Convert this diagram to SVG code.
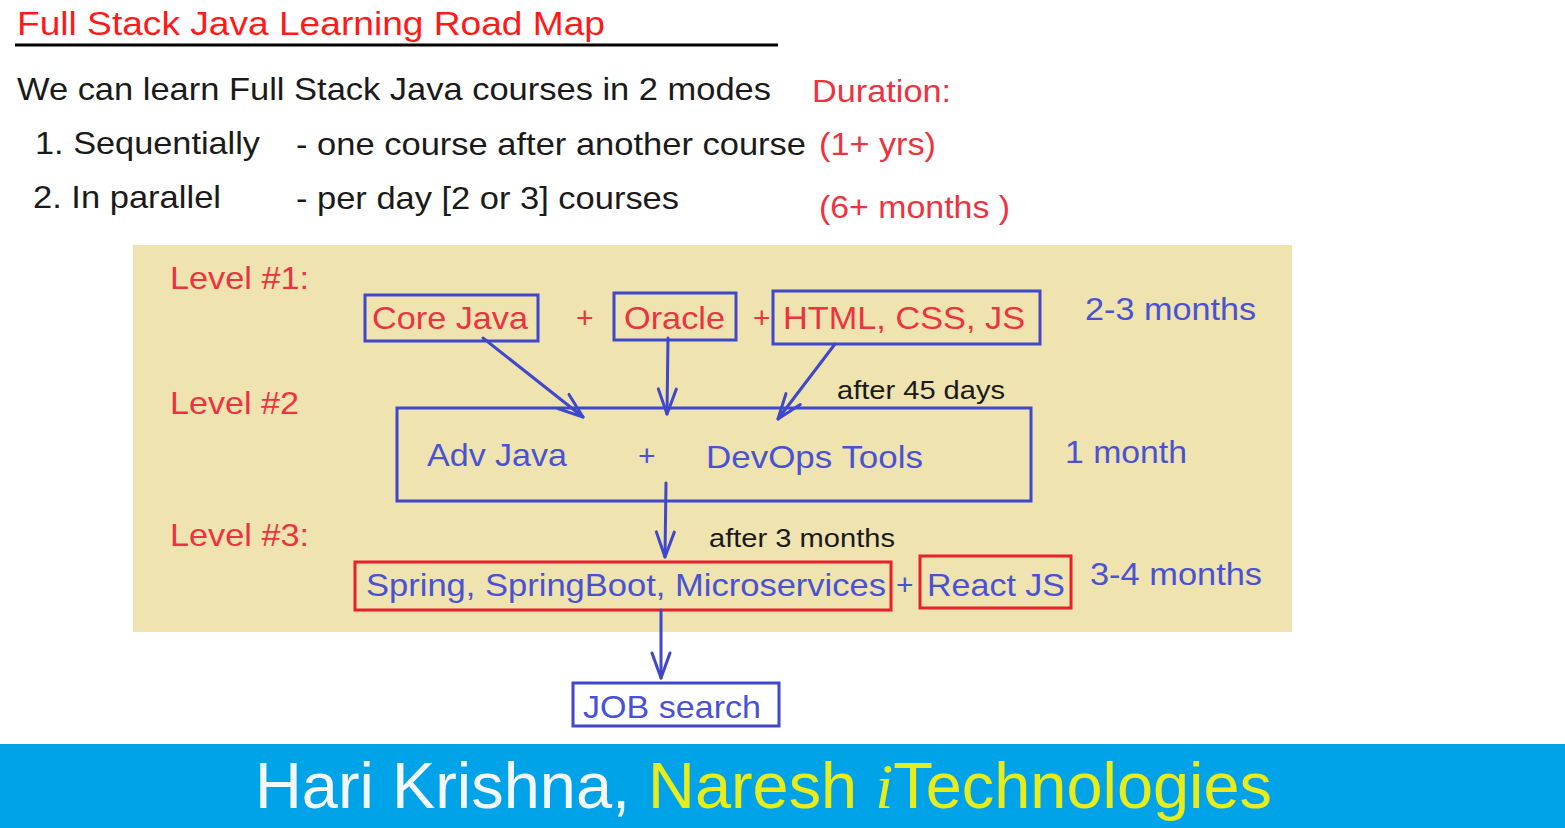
<svg xmlns="http://www.w3.org/2000/svg" width="1565" height="828" viewBox="0 0 1565 828">
<defs>
<style>
text{font-family:"Liberation Sans",Arial,sans-serif;}
.blk{fill:#1a1a1a;font-size:32px;}
.red{fill:#ee3340;}
.blu{fill:#4a52d4;}
.bx{fill:none;stroke:#3f48cc;stroke-width:3;}
.rbx{fill:none;stroke:#e8202a;stroke-width:3;}
.cn{fill:none;stroke:#3f48cc;stroke-width:3;stroke-linecap:round;}
</style>
<marker id="ah" markerUnits="userSpaceOnUse" markerWidth="32" markerHeight="24" viewBox="-28 -12 32 24" refX="0" refY="0" orient="auto">
<path d="M-25,-9 L0,0 L-25,9" fill="none" stroke="#3f48cc" stroke-width="3" stroke-linecap="round" stroke-linejoin="round"/>
</marker>
</defs>
<rect width="1565" height="828" fill="#ffffff"/>

<g id="header">
<text x="17" y="35" font-size="34" fill="#ff1a1a" textLength="588" lengthAdjust="spacingAndGlyphs">Full Stack Java Learning Road Map</text>
<line x1="15" y1="45" x2="778" y2="45" stroke="#000" stroke-width="3"/>
<text class="blk" x="17" y="100" textLength="754" lengthAdjust="spacingAndGlyphs">We can learn Full Stack Java courses in 2 modes</text>
<text class="blk" x="35" y="154" textLength="225" lengthAdjust="spacingAndGlyphs">1. Sequentially</text>
<text class="blk" x="296" y="155" textLength="510" lengthAdjust="spacingAndGlyphs">- one course after another course</text>
<text class="blk" x="33" y="208" textLength="188" lengthAdjust="spacingAndGlyphs">2. In parallel</text>
<text class="blk" x="296" y="209" textLength="383" lengthAdjust="spacingAndGlyphs">- per day [2 or 3] courses</text>
<text class="red" x="812" y="102" font-size="32" textLength="139" lengthAdjust="spacingAndGlyphs">Duration:</text>
<text class="red" x="819" y="155" font-size="32" textLength="117" lengthAdjust="spacingAndGlyphs">(1+ yrs)</text>
<text class="red" x="819" y="218" font-size="32" textLength="191" lengthAdjust="spacingAndGlyphs">(6+ months )</text>
</g>

<rect id="panel" x="133" y="245" width="1159" height="387" fill="#efe3b0"/>

<g id="labels">
<text class="red" x="170" y="289" font-size="32" textLength="139" lengthAdjust="spacingAndGlyphs">Level #1:</text>
<text class="red" x="170" y="414" font-size="32" textLength="129" lengthAdjust="spacingAndGlyphs">Level #2</text>
<text class="red" x="170" y="546" font-size="32" textLength="139" lengthAdjust="spacingAndGlyphs">Level #3:</text>
<text class="blu" x="1085" y="320" font-size="32" textLength="171" lengthAdjust="spacingAndGlyphs">2-3 months</text>
<text class="blu" x="1065" y="463" font-size="32" textLength="122" lengthAdjust="spacingAndGlyphs">1 month</text>
<text class="blu" x="1090" y="585" font-size="32" textLength="172" lengthAdjust="spacingAndGlyphs">3-4 months</text>
<text x="837" y="399" font-size="26" fill="#1a1a1a" textLength="168" lengthAdjust="spacingAndGlyphs">after 45 days</text>
<text x="709" y="547" font-size="26" fill="#1a1a1a" textLength="186" lengthAdjust="spacingAndGlyphs">after 3 months</text>
<text class="red" x="576" y="328" font-size="30">+</text>
<text class="red" x="753" y="328" font-size="30">+</text>
<text class="blu" x="896" y="595" font-size="30">+</text>
</g>

<g id="corejava">
<rect class="bx" x="365" y="295" width="173" height="46"/>
<text class="red" x="372" y="329" font-size="32" textLength="156" lengthAdjust="spacingAndGlyphs">Core Java</text>
</g>
<g id="oracle">
<rect class="bx" x="614" y="293" width="122" height="47"/>
<text class="red" x="624" y="329" font-size="32" textLength="101" lengthAdjust="spacingAndGlyphs">Oracle</text>
</g>
<g id="web">
<rect class="bx" x="773" y="291" width="267" height="53"/>
<text class="red" x="783" y="329" font-size="32" textLength="242" lengthAdjust="spacingAndGlyphs">HTML, CSS, JS</text>
</g>
<g id="level2">
<rect class="bx" x="397" y="408" width="634" height="93"/>
<text class="blu" x="427" y="466" font-size="32" textLength="140" lengthAdjust="spacingAndGlyphs">Adv Java</text>
<text class="blu" x="638" y="466" font-size="30">+</text>
<text class="blu" x="706" y="468" font-size="32" textLength="217" lengthAdjust="spacingAndGlyphs">DevOps Tools</text>
</g>
<g id="spring">
<rect class="rbx" x="355" y="562" width="536" height="48"/>
<text class="blu" x="366" y="596" font-size="32" textLength="520" lengthAdjust="spacingAndGlyphs">Spring, SpringBoot, Microservices</text>
</g>
<g id="react">
<rect class="rbx" x="920" y="556" width="151" height="52"/>
<text class="blu" x="927" y="596" font-size="32" textLength="138" lengthAdjust="spacingAndGlyphs">React JS</text>
</g>
<g id="job">
<rect class="bx" x="573" y="683" width="206" height="43"/>
<text class="blu" x="583" y="718" font-size="32" textLength="178" lengthAdjust="spacingAndGlyphs">JOB search</text>
</g>

<g id="connectors">
<line class="cn" x1="483" y1="338" x2="583" y2="417" marker-end="url(#ah)"/>
<line class="cn" x1="668" y1="338" x2="667" y2="414" marker-end="url(#ah)"/>
<line class="cn" x1="835" y1="344" x2="778" y2="419" marker-end="url(#ah)"/>
<line class="cn" x1="666" y1="483" x2="665" y2="557" marker-end="url(#ah)"/>
<line class="cn" x1="661" y1="610" x2="661" y2="678" marker-end="url(#ah)"/>
</g>

<g id="banner">
<rect x="0" y="744" width="1565" height="84" fill="#00a2e8"/>
<text x="255" y="808" font-size="64" textLength="1017" lengthAdjust="spacingAndGlyphs"><tspan fill="#f4f8fc">Hari Krishna, </tspan><tspan fill="#e8ec1a">Naresh </tspan><tspan fill="#e8ec1a" font-family="Liberation Serif" font-style="italic">i</tspan><tspan fill="#e8ec1a">Technologies</tspan></text>
</g>
</svg>
